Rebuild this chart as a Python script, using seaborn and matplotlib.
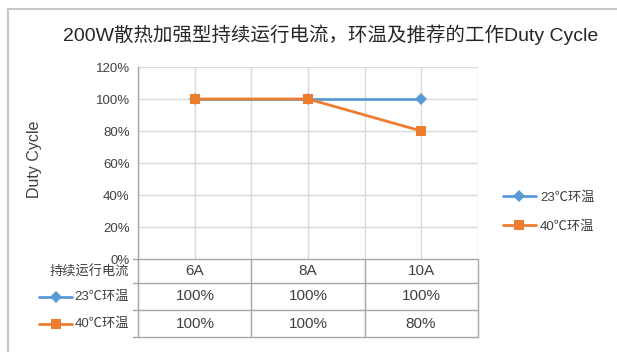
import numpy as np
import pandas as pd
import seaborn as sns
import matplotlib.pyplot as plt
from matplotlib.lines import Line2D

# data
currents = ['6A', '8A', '10A']
duty_23 = [100, 100, 100]
duty_40 = [100, 100, 80]
series_names = ['23℃环温', '40℃环温']
y_ticks = [0, 20, 40, 60, 80, 100, 120]
title = '200W散热加强型持续运行电流，环温及推荐的工作Duty Cycle'
row_header = '持续运行电流'

sns.set_style('white')
plt.rcParams['font.family'] = ['Liberation Sans', 'Noto Sans CJK SC', 'DejaVu Sans']

W, H = 617, 352
fig = plt.figure(figsize=(W / 100, H / 100), dpi=100)

def fx(x):
    return x / W

def fy(y):
    return 1 - y / H

blue = '#5B9BD5'
orange = '#ED7D31'
grid_c = '#d9d9d9'
tab_c = '#a6a6a6'
txt_c = '#404040'

# plot area
L, R, T, B = 138, 478, 67, 259
ax = fig.add_axes([fx(L), fy(B), (R - L) / W, (B - T) / H])

df = pd.DataFrame({
    '电流': currents * 2,
    'duty': duty_23 + duty_40,
    '环温': [series_names[0]] * 3 + [series_names[1]] * 3,
})
d23 = df[df['环温'] == series_names[0]]
d40 = df[df['环温'] == series_names[1]]
sns.lineplot(data=d23, x='电流', y='duty', ax=ax, color=blue, lw=2,
             marker='D', markersize=6, markeredgewidth=0, label=series_names[0], sort=False)
sns.lineplot(data=d40, x='电流', y='duty', ax=ax, color=orange, lw=2,
             marker='s', markersize=7, markeredgewidth=0, label=series_names[1], sort=False)

ax.set_xlim(-0.5, len(currents) - 0.5)
ax.set_ylim(0, 120)
ax.set_yticks(y_ticks)
ax.set_yticklabels([f'{v}%' for v in y_ticks], fontsize=9.5, color=txt_c)
ax.set_xticks([])
ax.set_xlabel('')
ax.set_ylabel('')
ax.tick_params(axis='y', length=4, color=tab_c, width=1, pad=2)
for v in y_ticks[1:]:
    ax.axhline(v, color=grid_c, lw=1, zorder=0)
for v in np.arange(-0.5, len(currents), 0.5):
    ax.axvline(v, color=grid_c, lw=1, zorder=0)
for s in ['top', 'right', 'bottom']:
    ax.spines[s].set_visible(False)
ax.spines['left'].set_color(tab_c)
ax.spines['left'].set_linewidth(1)

# legend on the right
handles, labels = ax.get_legend_handles_labels()
ax.get_legend().remove()
fig.legend(handles, labels, loc='center left', bbox_to_anchor=(fx(491), fy(212)),
           frameon=False, fontsize=9.5, handlelength=2.5, labelspacing=1.25,
           handletextpad=0.3, labelcolor=txt_c)

# data table below the axis
rows_y = [259, 283, 310, 337]
col_x = [L, 251, 365, R]
for y in rows_y:
    fig.add_artist(Line2D([fx(133), fx(R)], [fy(y), fy(y)], color=tab_c, lw=1))
for x in col_x:
    fig.add_artist(Line2D([fx(x), fx(x)], [fy(259), fy(337)], color=tab_c, lw=1))

centers = [195, 308, 421]
row_mid = [(rows_y[i] + rows_y[i + 1]) / 2 for i in range(3)]
for c, lab in zip(centers, currents):
    fig.text(fx(c), fy(row_mid[0]), lab, ha='center', va='center', fontsize=11, color=txt_c)
for c, v in zip(centers, duty_23):
    fig.text(fx(c), fy(row_mid[1]), f'{v}%', ha='center', va='center', fontsize=11, color=txt_c)
for c, v in zip(centers, duty_40):
    fig.text(fx(c), fy(row_mid[2]), f'{v}%', ha='center', va='center', fontsize=11, color=txt_c)

fig.text(fx(129), fy(272), row_header, ha='right', va='center', fontsize=9.5, color=txt_c)
for i, (name, col, mk, ms) in enumerate(zip(series_names, [blue, orange], ['D', 's'], [6, 7])):
    yy = fy(row_mid[i + 1])
    fig.add_artist(Line2D([fx(39), fx(72)], [yy, yy], color=col, lw=2))
    fig.add_artist(Line2D([fx(56)], [yy], color=col, marker=mk, markersize=ms, markeredgewidth=0))
    fig.text(fx(129), yy, name, ha='right', va='center', fontsize=9.5, color=txt_c)

# y label and title
fig.text(fx(35), fy(159), 'Duty Cycle', rotation=90, ha='center', va='center', fontsize=11.5, color=txt_c)
fig.text(fx(331), fy(35), title, ha='center', va='center', fontsize=14, color='#262626')

# outer chart border (only left and top edges are in frame)
fig.add_artist(Line2D([fx(8), fx(8)], [fy(9), 0], color='#c8c8c8', lw=1.5))
fig.add_artist(Line2D([fx(8), 1], [fy(9), fy(9)], color='#c8c8c8', lw=1.5))

fig.savefig('out.png', dpi=100)
